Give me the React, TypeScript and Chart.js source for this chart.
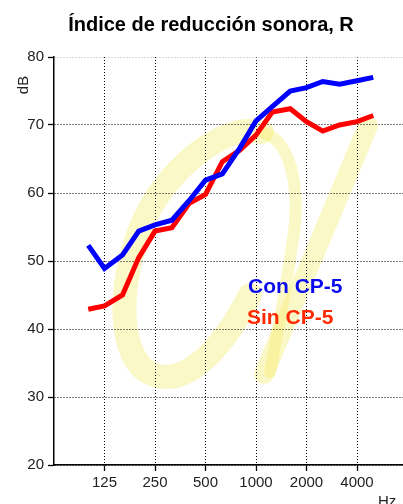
import React, { useEffect, useRef } from "react";
import { Chart, registerables } from "chart.js";

Chart.register(...registerables);

const TITLE = "Índice de reducción sonora, R";
const frequencies = [100, 125, 160, 200, 250, 315, 400, 500, 630, 800, 1000, 1250, 1600, 2000, 2500, 3150, 4000, 5000];
const conCP5 = [52.3, 48.9, 50.9, 54.4, 55.3, 56.0, 58.9, 61.9, 62.8, 66.6, 70.6, 72.7, 75.0, 75.5, 76.4, 76.0, 76.5, 77.0];
const sinCP5 = [42.9, 43.4, 45.0, 50.5, 54.4, 54.9, 58.5, 59.8, 64.6, 66.3, 68.5, 71.9, 72.4, 70.5, 69.1, 70.0, 70.5, 71.4];
const xTickValues = [125, 250, 500, 1000, 2000, 4000];
const yTickValues = [20, 30, 40, 50, 60, 70, 80];
const seriesNames = ["Con CP-5", "Sin CP-5"];

const FONT = "'Liberation Sans', Arial, Helvetica, sans-serif";

const decorPlugin = {
  id: "decor",
  beforeDraw(chart: any) {
    const ctx = chart.ctx;
    ctx.save();
    ctx.lineCap = "round";
    ctx.lineJoin = "round";
    ctx.strokeStyle = "rgba(242, 232, 80, 0.32)";
    // alpha watermark
    ctx.lineWidth = 24;
    ctx.beginPath();
    ctx.moveTo(250, 295);
    ctx.bezierCurveTo(222, 350, 185, 388, 152, 374);
    ctx.bezierCurveTo(114, 358, 117, 270, 150, 208);
    ctx.bezierCurveTo(180, 158, 228, 124, 262, 132);
    ctx.stroke();
    ctx.lineWidth = 12;
    ctx.beginPath();
    ctx.moveTo(262, 132);
    ctx.bezierCurveTo(296, 142, 300, 200, 292, 245);
    ctx.bezierCurveTo(285, 295, 276, 340, 270, 372);
    ctx.stroke();
    ctx.lineWidth = 20;
    ctx.beginPath();
    ctx.moveTo(264, 374);
    ctx.lineTo(368, 126);
    ctx.stroke();
    ctx.restore();
  },
  afterDraw(chart: any) {
    const ctx = chart.ctx;
    ctx.save();
    ctx.fillStyle = "#000";
    ctx.font = `bold 20px ${FONT}`;
    ctx.textAlign = "center";
    ctx.textBaseline = "alphabetic";
    ctx.fillText(TITLE, 211, 31);

    ctx.font = `15px ${FONT}`;
    ctx.fillStyle = "#222";
    ctx.save();
    ctx.translate(28, 85);
    ctx.rotate(-Math.PI / 2);
    ctx.textAlign = "center";
    ctx.fillText("dB", 0, 0);
    ctx.restore();

    ctx.textAlign = "left";
    ctx.fillText("Hz", 378, 506);

    ctx.font = `bold 21px ${FONT}`;
    ctx.fillStyle = "#0a0aee";
    ctx.fillText(seriesNames[0], 248, 293);
    ctx.fillStyle = "#ff2a00";
    ctx.fillText(seriesNames[1], 247, 324);
    ctx.restore();
  },
};

export default function App() {
  const ref = useRef<HTMLCanvasElement | null>(null);
  useEffect(() => {
    if (!ref.current) return;
    const chart = new Chart(ref.current, {
      type: "line",
      data: {
        datasets: [
          {
            label: seriesNames[0],
            data: frequencies.map((f, i) => ({ x: f, y: conCP5[i] })),
            borderColor: "#0000ff",
            borderWidth: 5,
            pointRadius: 0,
            tension: 0,
            fill: false,
          },
          {
            label: seriesNames[1],
            data: frequencies.map((f, i) => ({ x: f, y: sinCP5[i] })),
            borderColor: "#ff0000",
            borderWidth: 5,
            pointRadius: 0,
            tension: 0,
            fill: false,
          },
        ],
      },
      options: {
        responsive: false,
        animation: false,
        layout: { padding: { top: 57, left: 0, right: 0, bottom: 0 } },
        plugins: { legend: { display: false }, title: { display: false }, tooltip: { enabled: false } },
        scales: {
          x: {
            type: "logarithmic",
            min: 62.5,
            max: 7520,
            afterBuildTicks: (scale: any) => {
              scale.ticks = xTickValues.map((v) => ({ value: v }));
            },
            afterFit: (scale: any) => {
              scale.height = 39;
            },
            ticks: {
              autoSkip: false,
              maxRotation: 0,
              padding: 3,
              color: "#222",
              font: { family: FONT, size: 15 },
              callback: (v: any) => String(v),
            },
            grid: {
              color: "#000",
              lineWidth: 1,
              tickLength: 6,
              tickColor: "#000",
              tickWidth: 1.3,
              drawOnChartArea: true,
            },
            border: { display: true, color: "#000", width: 1.5, dash: [1, 2] },
          },
          y: {
            type: "linear",
            min: 20,
            max: 80,
            afterBuildTicks: (scale: any) => {
              scale.ticks = yTickValues.map((v) => ({ value: v }));
            },
            afterFit: (scale: any) => {
              scale.width = 54;
            },
            ticks: {
              padding: 4,
              color: "#222",
              font: { family: FONT, size: 15 },
            },
            grid: {
              color: (c: any) => (c.tick && c.tick.value === 80 ? "#b0b0b0" : "#000"),
              lineWidth: 1,
              tickLength: 6,
              tickColor: "#000",
              tickWidth: 1.3,
            },
            border: { display: true, color: "#000", width: 1.5, dash: [1, 2] },
          },
        },
      } as any,
      plugins: [decorPlugin],
    });
    return () => chart.destroy();
  }, []);
  return (
    <div style={{ position: "absolute", left: 0, top: 0, width: 403, height: 504, background: "#fff" }}>
      <canvas ref={ref} width={403} height={504} style={{ display: "block" }} />
    </div>
  );
}
